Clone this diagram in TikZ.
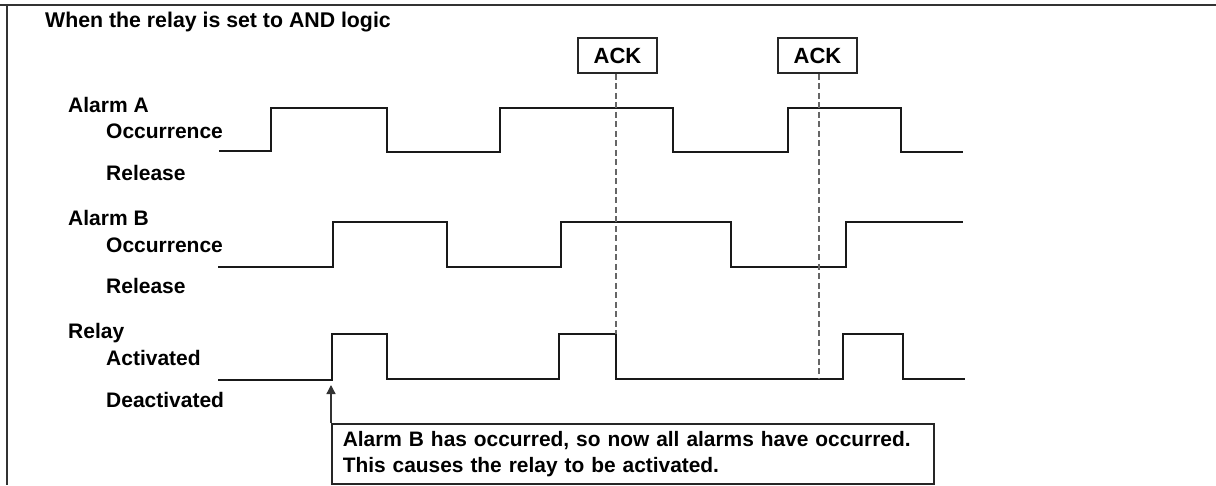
\documentclass[tikz,border=0pt]{standalone}
\usepackage{fontspec}
\setmainfont{Liberation Sans}
\usetikzlibrary{arrows.meta,positioning}

\begin{document}
\begin{tikzpicture}[
    x=1pt, y=-1pt,
    frame/.style={draw=black!80, line width=2pt},
    heading/.style={anchor=base west, inner sep=0pt, font=\bfseries\fontsize{21.3}{25}\selectfont},
    signame/.style={anchor=base west, inner sep=0pt, font=\bfseries\fontsize{21}{25}\selectfont},
    level/.style={anchor=base west, inner sep=0pt, font=\bfseries\fontsize{21}{25}\selectfont},
    wave/.style={draw=black!90, line width=1.5pt},
    ackbox/.style={rectangle, draw=black!85, line width=1.5pt, minimum width=79pt, minimum height=35pt, inner sep=0pt, font=\bfseries\fontsize{22}{26}\selectfont},
    ackline/.style={draw=black!60, line width=1.3pt, dash pattern=on 6pt off 3.5pt},
    notebox/.style={rectangle, draw=black!85, line width=1.5pt, anchor=north west, minimum width=602pt, minimum height=60pt, text width=580pt, inner xsep=11pt, inner ysep=4pt, align=left, font=\bfseries\fontsize{20.9}{26}\selectfont},
    arrow/.style={draw=black!80, line width=1.3pt, -{Triangle[length=9pt, width=9pt]}}
]
    \useasboundingbox (0,0) rectangle (1216,485);

    % Frame
    \draw[frame] (0,5) -- (1216,5);
    \draw[frame] (7,5) -- (7,485);

    % Heading
    \node[heading] (title) at (45,27) {When the relay is set to AND logic};

    % Signal names
    \node[signame] (alarmA) at (68,112) {Alarm A};
    \node[level] (occA) at (106,138) {Occurrence};
    \node[level] (relA) at (106,180) {Release};

    \node[signame] (alarmB) at (68,225) {Alarm B};
    \node[level] (occB) at (106,252) {Occurrence};
    \node[level] (relB) at (106,293) {Release};

    \node[signame] (relay) at (68,338) {Relay};
    \node[level] (actR) at (106,365) {Activated};
    \node[level] (deactR) at (106,407) {Deactivated};

    % Alarm A
    \draw[wave] (219,151) -- (271,151) -- (271,108) -- (387,108) -- (387,152)
        -- (500,152) -- (500,108) -- (673,108) -- (673,152) -- (788,152)
        -- (788,108) -- (901,108) -- (901,152) -- (963,152);

    % Alarm B
    \draw[wave] (218,267) -- (333,267) -- (333,222) -- (447,222) -- (447,267)
        -- (561,267) -- (561,222) -- (731,222) -- (731,267) -- (846,267)
        -- (846,222) -- (963,222);

    % Relay
    \draw[wave] (218,380) -- (332,380) -- (332,334) -- (387,334) -- (387,379)
        -- (559,379) -- (559,334) -- (616,334) -- (616,379) -- (843,379)
        -- (843,334) -- (903,334) -- (903,379) -- (965,379);

    % ACK
    \node[ackbox] (ack1) at (617.5,55.5) {ACK};
    \node[ackbox] (ack2) at (817.5,55.5) {ACK};
    \coordinate (ackA) at (616,334);
    \coordinate (ackB) at (819,379);
    \draw[ackline] (ack1.south -| ackA) -- (ackA);
    \draw[ackline] (ack2.south -| ackB) -- (ackB);

    % Note
    \node[notebox] (note) at (331,423) {Alarm B has occurred, so now all alarms have occurred.\\This causes the relay to be activated.};
    \coordinate (trig) at (331,385);
    \draw[arrow] (note.north west) -- (trig);

\end{tikzpicture}
\end{document}
